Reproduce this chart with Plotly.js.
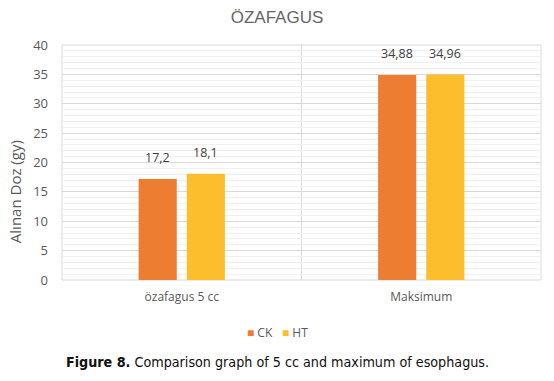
<!DOCTYPE html>
<html>
<head>
<meta charset="utf-8">
<script src="https://cdn.plot.ly/plotly-3.0.1.min.js"></script>
<style>html,body{margin:0;padding:0;background:#fff;}#chart{width:554px;height:381px;}</style>
</head>
<body>
<div id="chart"></div>
<script>
const categories = ["özafagus 5 cc", "Maksimum"];
const ckValues = [17.2, 34.88];
const htValues = [18.1, 34.96];
const seriesNames = ["CK", "HT"];
const seriesColors = ["#ED7D31", "#FDBE2E"];
const yTicks = [0, 5, 10, 15, 20, 25, 30, 35, 40];
const yTitle = "Alınan Doz (gy)";

const fmt = v => String(v).replace('.', ',');
const baseFont = "Open Sans, Liberation Sans, sans-serif";
const labelFont = {family: baseFont, size: 12.5, color: "#404040"};

const traces = [
  {type: "bar", name: seriesNames[0], x: categories, y: ckValues, marker: {color: seriesColors[0]}, hoverinfo: "none", showlegend: false},
  {type: "bar", name: seriesNames[1], x: categories, y: htValues, marker: {color: seriesColors[1]}, hoverinfo: "none", showlegend: false}
];

const annotations = [];
categories.forEach((c, i) => {
  annotations.push({x: c, y: ckValues[i], xref: "x", yref: "y", text: fmt(ckValues[i]), showarrow: false, xshift: -24, yanchor: "bottom", yshift: 11, font: labelFont});
  annotations.push({x: c, y: htValues[i], xref: "x", yref: "y", text: fmt(htValues[i]), showarrow: false, xshift: 24, yanchor: "bottom", yshift: 11, font: labelFont});
});
// legend entries
const legendX = [0.382, 0.455];
seriesNames.forEach((n, i) => {
  annotations.push({
    x: legendX[i], y: -0.2255, xref: "paper", yref: "paper", xanchor: "left", yanchor: "middle", showarrow: false,
    text: "<span style='color:" + seriesColors[i] + "'>■</span> " + n,
    font: {family: baseFont, size: 12, color: "#595959"}
  });
});
// y-axis title
annotations.push({
  x: -0.098, y: 0.374, xref: "paper", yref: "paper", xanchor: "center", yanchor: "middle", showarrow: false,
  textangle: -90, text: yTitle, font: {family: baseFont, size: 15, color: "#595959"}
});
// caption
annotations.push({
  x: 0.449, y: -0.349, xref: "paper", yref: "paper", xanchor: "center", yanchor: "middle", showarrow: false,
  text: "<b>Figure 8.</b> Comparison graph of 5 cc and maximum of esophagus.",
  font: {family: "DejaVu Sans Condensed, Liberation Sans Narrow, Roboto, sans-serif", size: 14.2, color: "#111"}
});

const layout = {
  width: 554, height: 381,
  margin: {l: 62, r: 13, t: 45, b: 101},
  paper_bgcolor: "#fff", plot_bgcolor: "#fff",
  title: {text: "ÖZAFAGUS", x: 0.5, xanchor: "center", y: 0.955, yanchor: "middle",
          font: {family: "Liberation Sans, Roboto, sans-serif", size: 17, color: "#666"}},
  barmode: "group", bargap: 0.598, bargroupgap: 0.208,
  xaxis: {type: "category", range: [-0.5, 1.5], showgrid: false, zeroline: false, showline: false,
          ticks: "", tickfont: {family: baseFont, size: 12, color: "#595959"}, ticklabelstandoff: 8},
  yaxis: {range: [0, 40], tickvals: yTicks, ticktext: yTicks.map(String), showgrid: true, gridcolor: "#d9d9d9", gridwidth: 1,
          minor: {dtick: 1, showgrid: true, gridcolor: "#f0f0f0", gridwidth: 1},
          zeroline: false, showline: false, ticks: "", ticklabelstandoff: 13,
          tickfont: {family: baseFont, size: 13, color: "#595959"}},
  shapes: [
    {type: "rect", xref: "paper", yref: "paper", x0: 0, x1: 1, y0: 0, y1: 1, line: {color: "#d9d9d9", width: 1}, layer: "below"},
    {type: "line", xref: "x", yref: "paper", x0: 0.5, x1: 0.5, y0: 0, y1: 1, line: {color: "#d9d9d9", width: 1}, layer: "below"}
  ],
  annotations: annotations,
  showlegend: false
};

Plotly.newPlot("chart", traces, layout, {staticPlot: true, displayModeBar: false});
</script>
</body>
</html>
